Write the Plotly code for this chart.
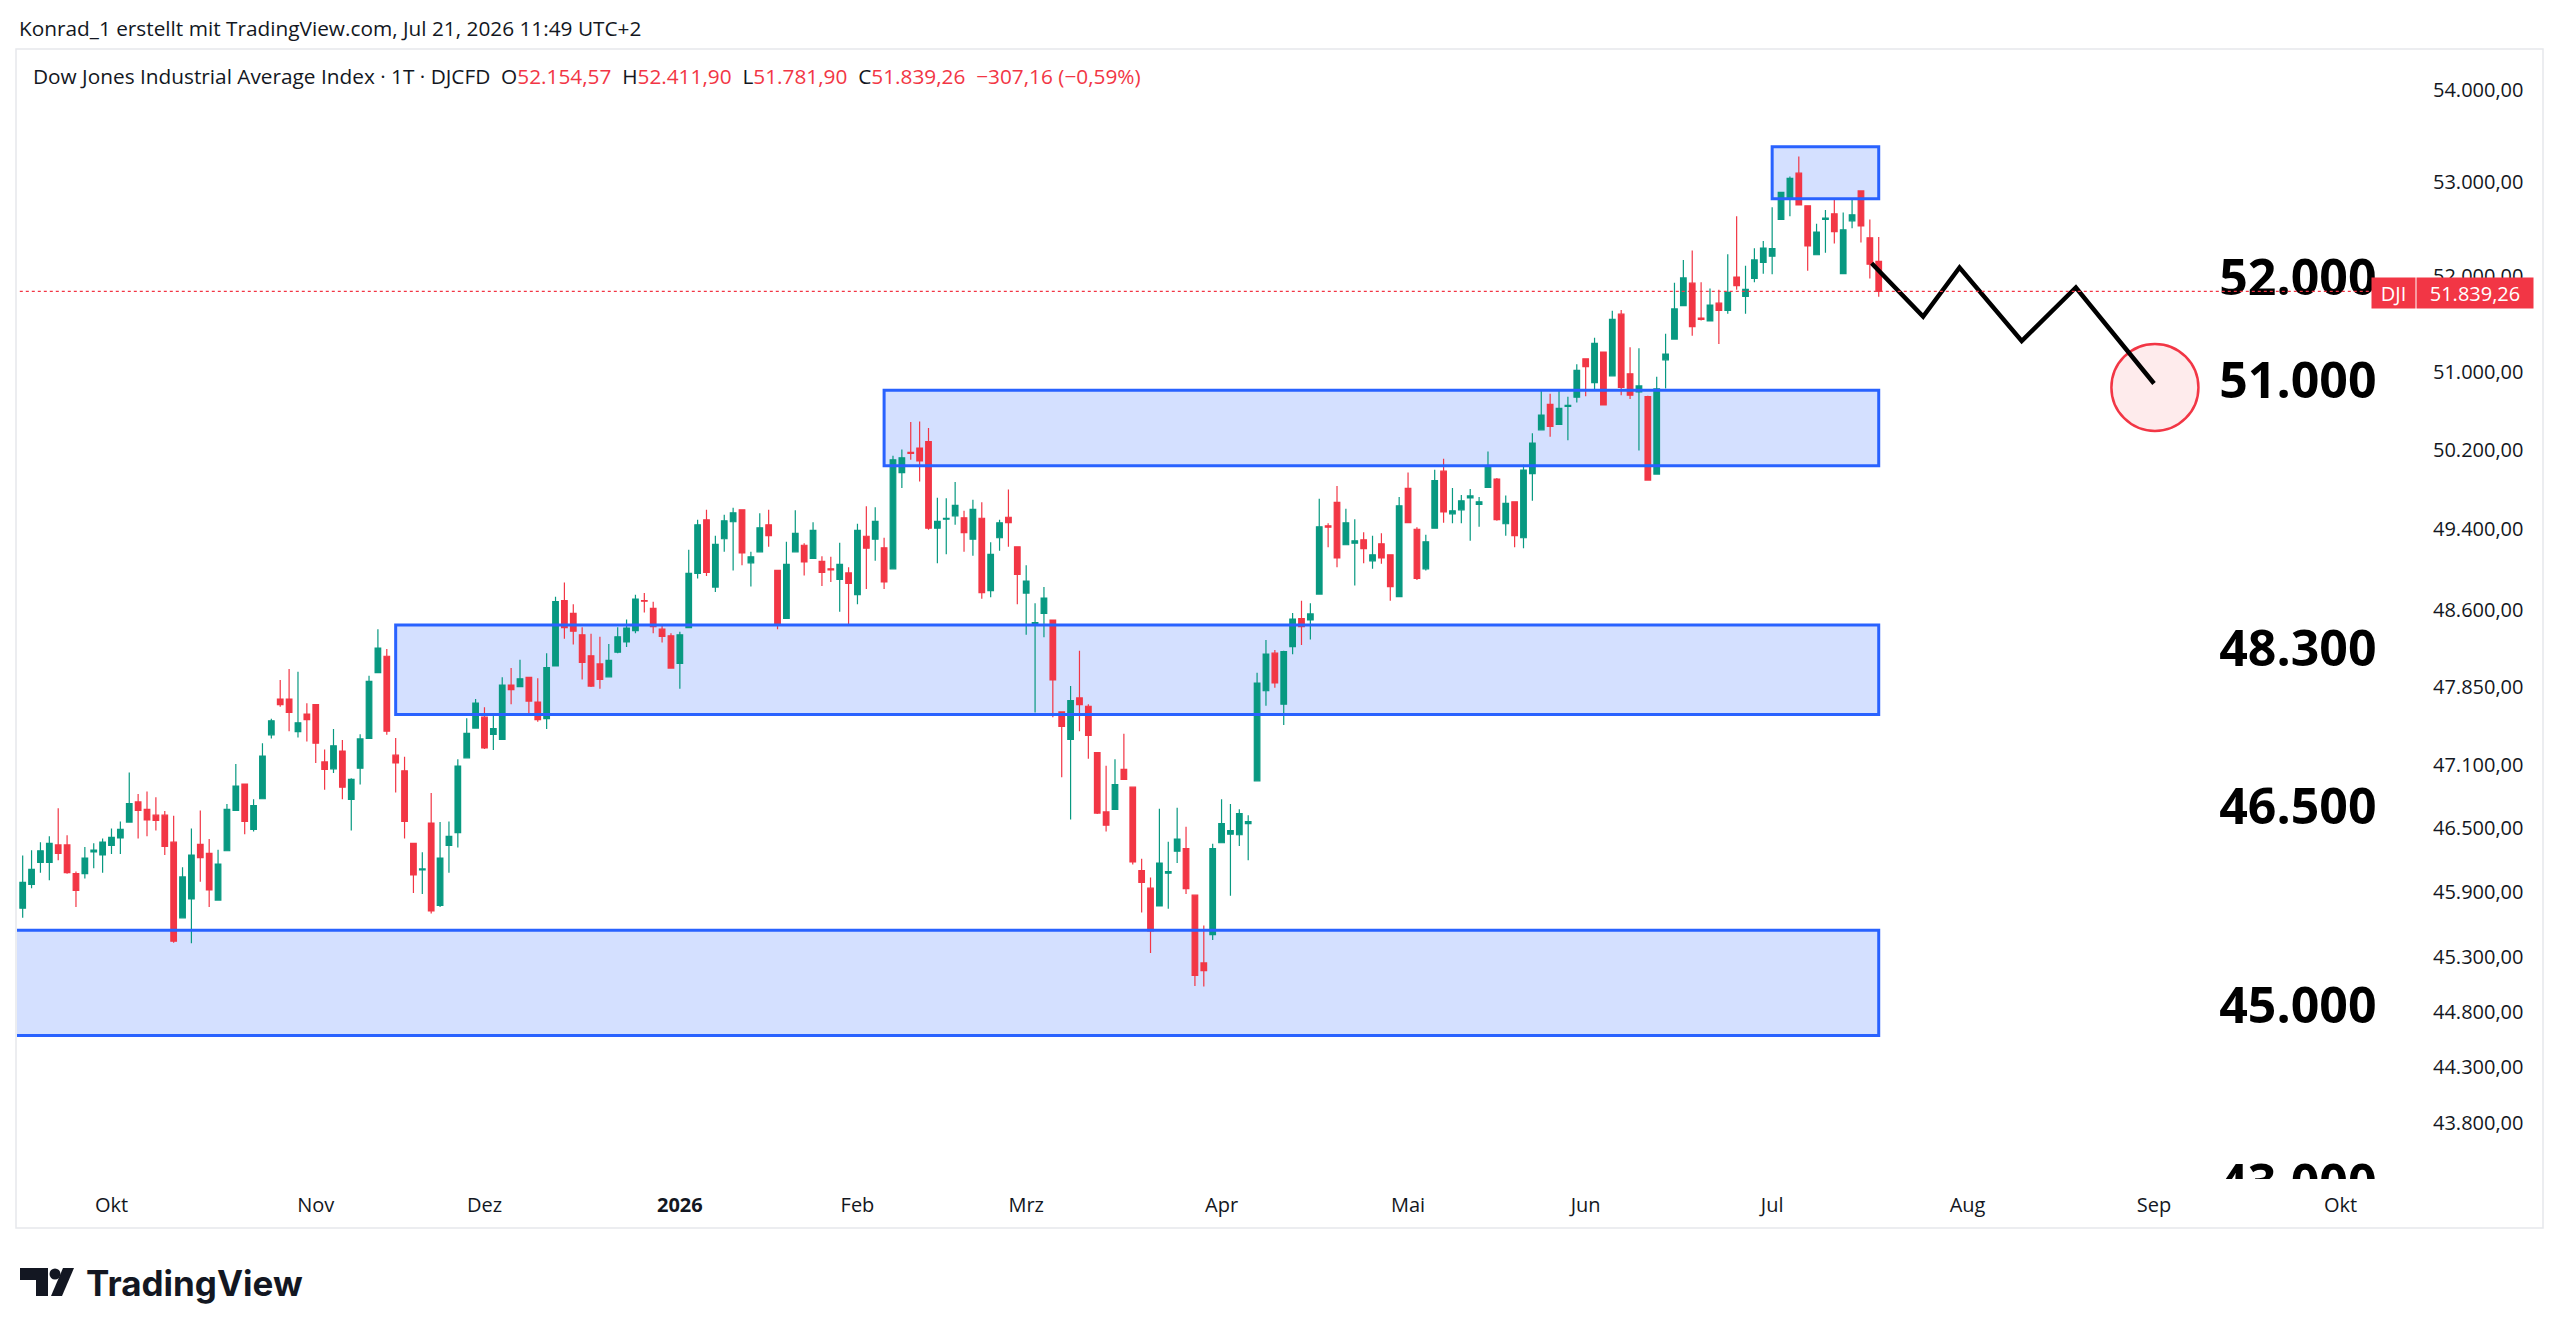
import math
import plotly.graph_objects as go

# DJI daily candles, Sep 2025 - Jul 21 2026
open_ = [45750, 45970, 46175, 46175, 46340, 46340, 46070, 46070, 46275, 46245,
         46335, 46405, 46555, 46745, 46675, 46620, 46620, 46365, 45660, 45835,
         46345, 46260, 45825, 46285, 46665, 46915, 46485, 46775, 47385, 47730,
         47730, 47415, 47585, 47675, 47125, 47060, 47230, 46770, 47065, 47350,
         47985, 48145, 47190, 47040, 46355, 46105, 46545, 45775, 46335, 46455,
         47165, 47450, 47555, 47390, 47340, 47865, 47850, 47940, 47700, 47540,
         48050, 48690, 48565, 48355, 48150, 48070, 47945, 48185, 48285, 48395,
         48690, 48615, 48410, 48345, 48075, 48425, 48960, 49495, 48825, 49305,
         49475, 49595, 49065, 49175, 49445, 48990, 48515, 49175, 49240, 49110,
         49080, 49005, 48900, 48965, 48750, 49330, 49300, 49215, 49005, 49970,
         50175, 50220, 50285, 49410, 49500, 49535, 49515, 49300, 49510, 48790,
         49315, 49520, 49225, 48765, 48465, 48565, 48500, 47605, 47340, 47740,
         47660, 47215, 46650, 46675, 47055, 46885, 46100, 45935, 45770, 46075,
         46280, 46305, 45870, 45245, 45505, 46360, 46440, 46435, 46540, 46945,
         47810, 48175, 47680, 48240, 48515, 48500, 48755, 49435, 49670, 49245,
         49260, 49295, 49085, 49255, 49145, 48730, 49810, 49400, 49005, 49410,
         49985, 49555, 49595, 49715, 49650, 49820, 49905, 49455, 49675, 49315,
         49960, 50405, 50665, 50460, 50645, 50740, 51135, 50890, 51205, 50960,
         51600, 50980, 50795, 50745, 49955, 51125, 51340, 51690, 51925, 51560,
         51530, 51715, 51640, 51990, 51785, 51975, 52145, 52210, 52600, 52815,
         53095, 52745, 52225, 52600, 52660, 52025, 52585, 52905, 52405, 52154.57]
high = [46240, 46290, 46365, 46420, 46685, 46430, 46090, 46320, 46355, 46400,
        46495, 46560, 47025, 46820, 46845, 46790, 46660, 46615, 46130, 46495,
        46665, 46395, 46295, 46725, 47105, 46920, 46770, 47305, 47540, 47915,
        48020, 47995, 47690, 47680, 47245, 47440, 47335, 46970, 47390, 47955,
        48410, 48215, 47355, 47175, 46360, 46270, 46830, 46555, 46560, 47150,
        47545, 47730, 47650, 47565, 47940, 48030, 48110, 47945, 47930, 48175,
        48730, 48870, 48655, 48430, 48365, 48335, 48265, 48430, 48505, 48750,
        48765, 48680, 48445, 48370, 48385, 49195, 49495, 49595, 49335, 49545,
        49615, 49600, 49175, 49560, 49595, 48990, 49275, 49590, 49260, 49470,
        49130, 49125, 49265, 49020, 49455, 49630, 49620, 49315, 50140, 50205,
        50485, 50490, 50425, 49715, 49710, 49875, 49585, 49695, 49670, 49270,
        49495, 49800, 49230, 49040, 48665, 48825, 48505, 47610, 47855, 48200,
        47680, 47220, 47090, 47150, 47395, 46890, 46210, 46035, 46680, 46370,
        46690, 46510, 45875, 45590, 46350, 46770, 46725, 46675, 46620, 47985,
        48305, 48205, 48200, 48570, 48690, 48665, 49705, 49460, 49835, 49605,
        49500, 49370, 49335, 49360, 49145, 49725, 49970, 49420, 49345, 50000,
        50110, 49815, 49745, 49805, 49725, 50185, 49915, 49740, 49680, 50050,
        50370, 50805, 50775, 50805, 50745, 51080, 51140, 51355, 51210, 51635,
        51645, 51255, 51245, 50755, 50950, 51395, 51930, 52170, 52270, 51935,
        51870, 51855, 52230, 52635, 52110, 52295, 52370, 52730, 52895, 53060,
        53275, 52750, 52555, 52700, 52825, 52675, 52810, 52910, 52600, 52411.90]
low = [45660, 45935, 46080, 46010, 46195, 46070, 45760, 46025, 46120, 46080,
       46255, 46255, 46550, 46400, 46420, 46475, 46245, 45430, 45655, 45425,
       45995, 45760, 45820, 46280, 46660, 46440, 46465, 46770, 47350, 47655,
       47420, 47360, 47320, 47115, 46860, 47020, 46770, 46475, 46910, 47350,
       47985, 47385, 46835, 46400, 45890, 45880, 45700, 45760, 46080, 46315,
       47160, 47445, 47250, 47240, 47340, 47680, 47845, 47590, 47510, 47440,
       48050, 48315, 48260, 47920, 47845, 47830, 47945, 48175, 48235, 48370,
       48575, 48370, 48280, 48025, 47830, 48425, 48910, 48935, 48775, 49175,
       48990, 49040, 48830, 49175, 49225, 48410, 48515, 49175, 48940, 49105,
       48835, 48875, 48580, 48445, 48655, 48805, 49085, 48805, 49005, 49815,
       50100, 49880, 49395, 49060, 49150, 49445, 49175, 49135, 48710, 48725,
       49185, 49225, 48655, 48355, 47600, 48330, 47555, 46980, 46580, 47420,
       47155, 46630, 46465, 46675, 46955, 46155, 45710, 45335, 45765, 45745,
       46170, 45880, 45035, 45030, 45455, 46355, 45865, 46330, 46195, 46945,
       47665, 47840, 47480, 48165, 48255, 48310, 48755, 49220, 49020, 49240,
       48840, 49060, 49005, 49055, 48690, 48730, 49460, 48895, 48990, 49410,
       49465, 49460, 49460, 49285, 49425, 49815, 49485, 49335, 49220, 49210,
       49685, 50405, 50335, 50460, 50300, 50685, 50750, 50815, 50655, 50955,
       50760, 50720, 50195, 49890, 49950, 50830, 51335, 51685, 51375, 51535,
       51530, 51290, 51605, 51855, 51605, 51935, 52025, 52020, 52600, 52635,
       52750, 52055, 52220, 52245, 52345, 52020, 52505, 52355, 51975, 51781.90]
close = [45990, 46110, 46285, 46355, 46260, 46080, 45915, 46215, 46290, 46365,
         46410, 46485, 46730, 46665, 46575, 46570, 46325, 45445, 46040, 46245,
         46220, 45920, 46160, 46675, 46895, 46560, 46710, 47180, 47520, 47675,
         47600, 47500, 47530, 47305, 47055, 47280, 46885, 46960, 47345, 47900,
         48225, 47420, 47115, 46560, 46060, 46115, 45725, 46215, 46420, 47085,
         47400, 47690, 47260, 47445, 47865, 47820, 47925, 47710, 47530, 48035,
         48680, 48425, 48390, 48085, 47855, 47920, 48105, 48335, 48420, 48705,
         48685, 48435, 48340, 48030, 48355, 48960, 49445, 48970, 49250, 49485,
         49565, 49165, 49125, 49415, 49335, 48460, 49050, 49360, 49075, 49390,
         48970, 48995, 49050, 48860, 49390, 49210, 49480, 48875, 50100, 50120,
         50165, 50090, 49410, 49480, 49510, 49640, 49365, 49600, 48770, 49150,
         49465, 49465, 48950, 48885, 48475, 48715, 47915, 47465, 47715, 47675,
         47380, 46640, 46525, 46910, 46960, 46180, 45990, 45540, 46170, 46090,
         46395, 45930, 45130, 45175, 46305, 46540, 46475, 46635, 46560, 47885,
         48165, 47885, 48190, 48510, 48435, 48560, 49425, 49420, 49115, 49465,
         49285, 49205, 49145, 49115, 48830, 49635, 49465, 48910, 49275, 49890,
         49575, 49585, 49685, 49735, 49675, 50040, 49495, 49660, 49335, 49995,
         50270, 50555, 50440, 50625, 50655, 51015, 51055, 51295, 50660, 51545,
         50840, 50760, 50855, 49895, 50825, 51185, 51655, 51980, 51470, 51545,
         51695, 51640, 51830, 51900, 51860, 52170, 52295, 52290, 52890, 53040,
         52755, 52320, 52465, 52615, 52470, 52490, 52650, 52530, 52125, 51839.26]
last_change = -307.16
last_change_pct = -0.59

# first bar of each month (bar index) and the axis labels
month_idx = [10, 33, 52, 74, 94, 113, 135, 156, 176, 197, 219, 240, 261]
month_labels = ["Okt", "Nov", "Dez", "<b>2026</b>", "Feb", "Mrz", "Apr",
                "Mai", "Jun", "Jul", "Aug", "Sep", "Okt"]

price_ticks = [54000, 53000, 52000, 51000, 50200, 49400, 48600, 47850,
               47100, 46500, 45900, 45300, 44800, 44300, 43800]
price_range = [43307, 54448]

# drawn support / resistance zones
zone_start = [197, 97, 42, -5]
zone_end = [209, 209, 209, 209]
zone_low = [52820, 50040, 47580, 44585]
zone_high = [53380, 50810, 48450, 45545]

# big level labels on the right
level_text = ["52.000", "51.000", "48.300", "46.500", "45.000", "43.000"]
level_price = [51931, 50863, 48171, 46653, 44811, 43233]

# projected zigzag path and target circle
path_idx = [208.2, 214, 218.1, 225.1, 231.2, 240]
path_price = [52135, 51575, 52090, 51320, 51880, 50880]
target_idx = [235.2, 245.0]
target_price = [50394, 51290]

UP = "#089981"
DOWN = "#F23645"
TEXT = "#131722"
FONT = "Open Sans"

W, H = 2560, 1336
L_PX, R_PX, T_PX, B_PX = 17, 2416, 49, 1179


def lg(values):
    return [math.log10(v) for v in values]


def px_x(px):
    return (px - L_PX) / (R_PX - L_PX)


def px_y(py):
    return (B_PX - py) / (B_PX - T_PX)


def de(v, d=2):
    s = f"{abs(v):,.{d}f}".replace(",", "_").replace(".", ",").replace("_", ".")
    return ("\u2212" if v < 0 else "") + s


fig = go.Figure()

# price scale is logarithmic: plot log10(price) and label ticks with prices
fig.add_trace(go.Candlestick(
    x=list(range(len(close))), open=lg(open_), high=lg(high), low=lg(low),
    close=lg(close),
    increasing=dict(line=dict(color=UP, width=1.2), fillcolor=UP),
    decreasing=dict(line=dict(color=DOWN, width=1.2), fillcolor=DOWN),
    whiskerwidth=0, hoverinfo="skip", showlegend=False))

fig.add_trace(go.Scatter(
    x=path_idx, y=lg(path_price), mode="lines",
    line=dict(color="black", width=4.5), hoverinfo="skip", showlegend=False))

fig.add_trace(go.Scatter(
    x=[256.2] * len(level_text), y=lg(level_price), mode="text", text=level_text,
    textposition="middle center", cliponaxis=True,
    textfont=dict(family=FONT, size=50, color="black", weight="bold"),
    hoverinfo="skip", showlegend=False))

shapes = []
for i in range(len(zone_low)):
    box = dict(type="rect", xref="x", yref="y",
               x0=zone_start[i], x1=zone_end[i],
               y0=math.log10(zone_low[i]), y1=math.log10(zone_high[i]))
    shapes.append(dict(box, layer="below", fillcolor="rgba(41,98,255,0.2)",
                       line=dict(width=0)))
    shapes.append(dict(box, layer="above", fillcolor="rgba(0,0,0,0)",
                       line=dict(color="#2962FF", width=3)))

shapes.append(dict(type="circle", xref="x", yref="y", layer="below",
                   x0=target_idx[0], x1=target_idx[1],
                   y0=math.log10(target_price[0]), y1=math.log10(target_price[1]),
                   fillcolor="rgba(242,54,69,0.1)",
                   line=dict(color=DOWN, width=2.5)))

# last price dotted line
shapes.append(dict(type="line", xref="x", yref="y", x0=-1, x1=266,
                   y0=math.log10(close[-1]), y1=math.log10(close[-1]),
                   line=dict(color=DOWN, width=1.1, dash="dot")))

# pane frame
shapes.append(dict(type="rect", xref="paper", yref="paper",
                   x0=px_x(16), x1=px_x(2543), y0=px_y(1228), y1=px_y(49),
                   line=dict(color="#E6E8EC", width=1.5)))


# TradingView logo mark
def path(points):
    return "M " + " L ".join(f"{px_x(a)},{px_y(b)}" for a, b in points) + " Z"


shapes.append(dict(type="path", xref="paper", yref="paper", fillcolor=TEXT,
                   line=dict(width=0),
                   path=path([(20, 1268), (48, 1268), (48, 1296), (36, 1296),
                              (36, 1280), (20, 1280)])))
shapes.append(dict(type="path", xref="paper", yref="paper", fillcolor=TEXT,
                   line=dict(width=0),
                   path=path([(51, 1296), (62, 1296), (74, 1268), (63, 1268)])))
shapes.append(dict(type="circle", xref="paper", yref="paper", fillcolor=TEXT,
                   line=dict(width=0),
                   x0=px_x(49.5), x1=px_x(60.5), y0=px_y(1279.5), y1=px_y(1268.5)))

red = lambda s: f"<span style='color:{DOWN}'>{s}</span>"
gap = "&nbsp;&nbsp;"
legend_text = (
    "Dow Jones Industrial Average Index \u00b7 1T \u00b7 DJCFD" + gap
    + "O" + red(de(open_[-1])) + gap
    + "H" + red(de(high[-1])) + gap
    + "L" + red(de(low[-1])) + gap
    + "C" + red(de(close[-1])) + gap
    + red(f"{de(last_change)} ({de(last_change_pct)}%)")
)

annotations = [
    dict(xref="paper", yref="paper", x=px_x(17), y=px_y(28),
         xanchor="left", yanchor="middle", showarrow=False,
         text="Konrad_1 erstellt mit TradingView.com, Jul 21, 2026 11:49 UTC+2",
         font=dict(family=FONT, size=20.8, color=TEXT)),
    dict(xref="paper", yref="paper", x=px_x(31), y=px_y(76),
         xanchor="left", yanchor="middle", showarrow=False,
         text=legend_text, font=dict(family=FONT, size=20.8, color=TEXT)),
]

# last price tag
annotations.append(dict(xref="paper", yref="paper", x=px_x(2393.5), y=px_y(293),
                        xanchor="center", yanchor="middle", showarrow=False,
                        text="DJI", width=43, height=30, borderpad=0,
                        bgcolor=DOWN, font=dict(family=FONT, size=20, color="white")))
annotations.append(dict(xref="paper", yref="paper", x=px_x(2475), y=px_y(293),
                        xanchor="center", yanchor="middle", showarrow=False,
                        text=de(close[-1]), width=116, height=30, borderpad=0,
                        bgcolor=DOWN, font=dict(family=FONT, size=20, color="white")))

annotations.append(dict(xref="paper", yref="paper", x=px_x(84), y=px_y(1283),
                        xanchor="left", yanchor="middle", showarrow=False,
                        text="TradingView",
                        font=dict(family="Inter", size=35, color=TEXT, weight="bold")))

fig.update_layout(
    width=W, height=H,
    margin=dict(l=L_PX, r=W - R_PX, t=T_PX, b=H - B_PX),
    paper_bgcolor="white", plot_bgcolor="white",
    showlegend=False, boxgap=0.3, boxgroupgap=0.1,
    shapes=shapes, annotations=annotations,
    xaxis=dict(range=[-0.64, 269.5], tickmode="array", tickvals=month_idx,
               ticktext=month_labels, showgrid=False, zeroline=False,
               showline=False, ticks="", ticklabelstandoff=12,
               tickfont=dict(family=FONT, size=20, color=TEXT),
               rangeslider=dict(visible=False)),
    yaxis=dict(side="right", range=lg(price_range),
               tickmode="array", tickvals=lg(price_ticks),
               ticktext=[de(v) for v in price_ticks],
               showgrid=False, zeroline=False, showline=False, ticks="",
               ticklabelstandoff=16,
               tickfont=dict(family=FONT, size=20, color=TEXT)),
)

fig.write_html("out.html", config={"displayModeBar": False},
               post_script="document.body.style.margin='0';")
